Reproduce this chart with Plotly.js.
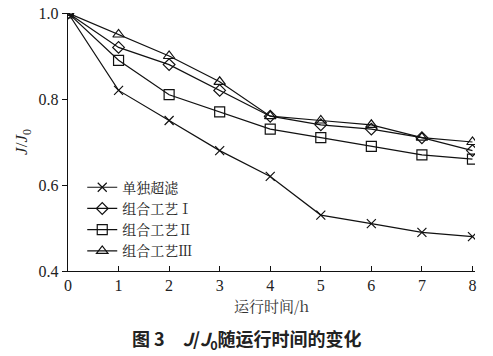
<!DOCTYPE html>
<html><head><meta charset="utf-8">
<script src="https://cdn.plot.ly/plotly-3.0.1.min.js"></script>
<style>body{margin:0;background:#fff}#c{width:493px;height:356px}</style>
</head><body><div id="c"></div>
<script>
const hours = [0,1,2,3,4,5,6,7,8];
const names = ['单独超滤','组合工艺Ⅰ','组合工艺Ⅱ','组合工艺Ⅲ'];
const uf = [1.0,0.82,0.75,0.68,0.62,0.53,0.51,0.49,0.48];
const p1 = [1.0,0.92,0.88,0.82,0.76,0.74,0.73,0.71,0.68];
const p2 = [1.0,0.89,0.81,0.77,0.73,0.71,0.69,0.67,0.66];
const p3 = [1.0,0.95,0.90,0.84,0.76,0.75,0.74,0.71,0.70];
const yTicks = [0.4,0.6,0.8,1.0];
const xTicks = [0,1,2,3,4,5,6,7,8];

const series = [uf,p1,p2,p3];
const syms = ['x-thin-open','diamond-open','square-open','triangle-up-open'];
const sizes = [9,9,10,10];
const traces = series.map((s,i)=>({
  x: hours, y: s, name: names[i], type:'scatter', mode:'lines+markers',
  line:{color:'#111',width:1.2},
  marker:{symbol:syms[i],size:sizes[i],color:'#111',line:{color:'#111',width:1.2}}
}));
const serif = 'Liberation Serif, Times New Roman, serif';
const cjk = 'Noto Serif CJK SC, Noto Sans CJK SC, serif';
const layout = {
  width:493,height:356,
  margin:{l:68,r:18,t:13,b:85},
  paper_bgcolor:'#fff',plot_bgcolor:'#fff',
  showlegend:true,
  legend:{x:0.035,y:0.385,xanchor:'left',yanchor:'top',bgcolor:'rgba(0,0,0,0)',
    font:{family:cjk,size:14,color:'#222'},
    tracegroupgap:0,itemwidth:30},
  xaxis:{range:[0,8.05],tickvals:xTicks,ticktext:xTicks.map(String),
    showline:true,linecolor:'#111',linewidth:1.2,showgrid:false,zeroline:false,
    ticks:'inside',ticklen:5,tickcolor:'#111',
    tickfont:{family:serif,size:16,color:'#222'},
    title:{text:'运行时间/h',font:{family:cjk,size:15,color:'#333'},standoff:8}},
  yaxis:{range:[0.4,1.0],tickvals:yTicks,ticktext:['0.4','0.6','0.8','1.0'],
    showline:true,linecolor:'#111',linewidth:1.2,showgrid:false,zeroline:false,
    ticks:'outside',ticklen:5,tickcolor:'#111',
    tickfont:{family:serif,size:16,color:'#222'},
    title:{text:'<i>J</i>/<i>J</i><sub>0</sub>',font:{family:serif,size:17,color:'#222'},standoff:6}},
  annotations:[{xref:'paper',yref:'paper',x:0.44,y:-0.267,yanchor:'middle',showarrow:false,
    text:'<b>图 3　<i>J</i>/<i>J</i><sub>0</sub>随运行时间的变化</b>',
    font:{family:'Noto Sans CJK SC, sans-serif',size:18,color:'#222'}}]
};
Plotly.newPlot('c',traces,layout,{displayModeBar:false,staticPlot:true});
</script></body></html>
